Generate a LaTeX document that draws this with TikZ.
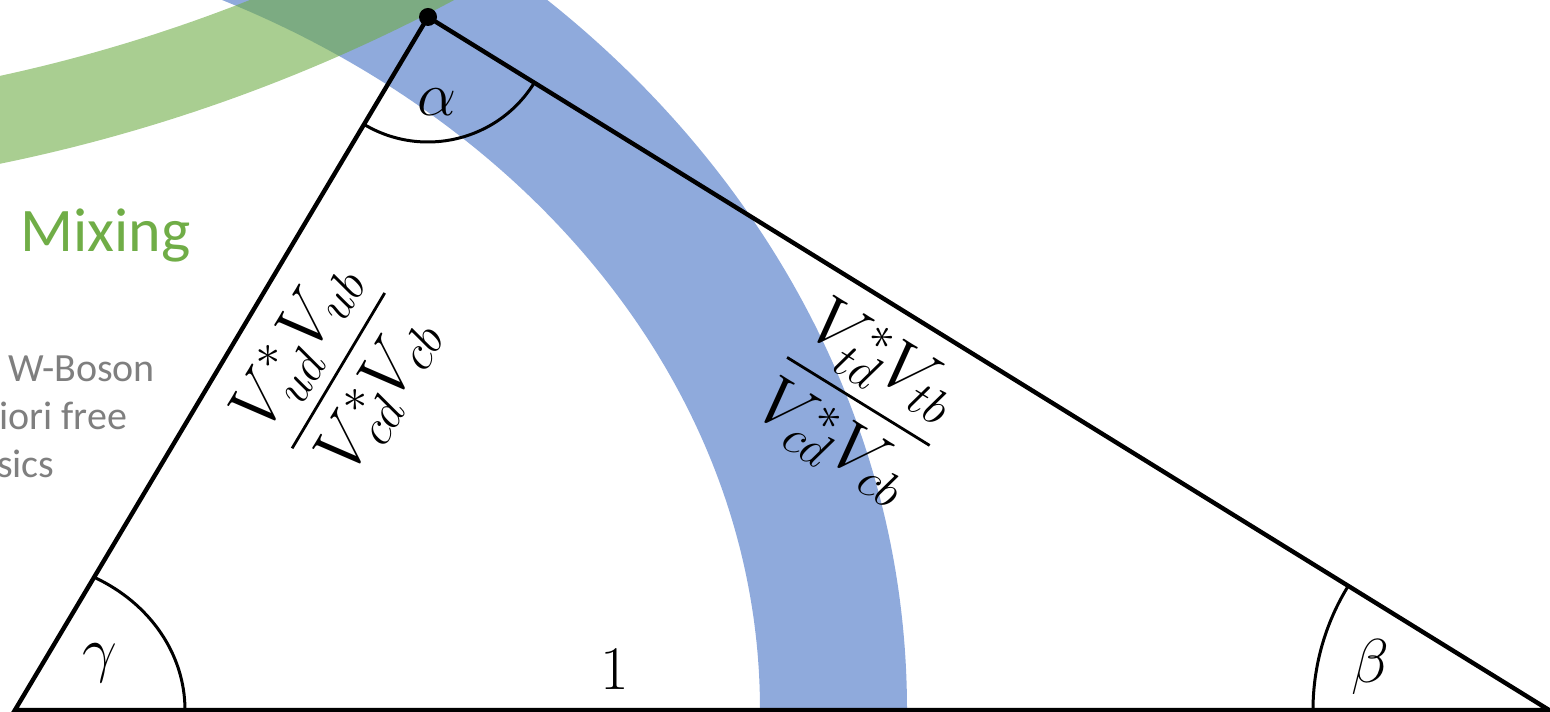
\RequirePackage{fix-cm}
\documentclass[tikz,border=0pt]{standalone}
\usepackage{amsmath}
\usepackage{fontspec}
\newfontfamily\carlito{Carlito}
\definecolor{ckmblue}{HTML}{8FAADC}
\definecolor{ckmgreen}{HTML}{70AD47}
\definecolor{ckmgray}{HTML}{7F7F7F}
\usetikzlibrary{
  calc,
  positioning
}
% fraction with a heavier bar
\newcommand{\ckmratio}[2]{\genfrac{}{}{2.8pt}{0}{#1}{#2}}

\begin{document}
\begin{tikzpicture}[
  x=1pt, y=1pt,
  side/.style={line width=4.4pt, line join=miter},
  anglearc/.style={line width=3pt},
  lbl/.style={font=\fontsize{62}{74}\selectfont, inner sep=0pt},
  ratio/.style={font=\fontsize{70}{84}\selectfont, inner sep=0pt},
  note/.style={font=\carlito\fontsize{40}{48}\selectfont, text=ckmgray,
    anchor=base west, inner sep=0pt},
]
\useasboundingbox (0,0) rectangle (1550,712);
\clip (0,0) rectangle (1550,712);

% bands (centres far outside the picture)
\coordinate (bc) at (-199,2);
\coordinate (gc) at (-340,2203);
\fill[ckmblue, even odd rule]
  (bc) ellipse[x radius=1106, y radius=962]
  (bc) ellipse[x radius=959, y radius=790];
\fill[ckmgreen, opacity=0.6, even odd rule]
  (gc) circle[radius=1689]
  (gc) circle[radius=1603];

% side texts
\node[font=\carlito\fontsize{62}{74}\selectfont, text=ckmgreen,
  anchor=base west, inner sep=0pt] (mixing) at (20,460) {Mixing};
\node[note] (wboson)  at (8,330)  {W-Boson};
\node[note] (apriori) at (-1,282) {iori free};
\node[note] (physics) at (-3,234) {sics};

% unitarity triangle
\coordinate (A) at (15,2);
\coordinate (B) at (1549,2);
\coordinate (C) at (428,695);
\draw[side] (A) -- (B) -- (C) -- cycle;
\fill (C) circle[radius=9];

% angles
\draw[anglearc] ($(A)+(170,0)$)
  arc[start angle=0, end angle=62.2, x radius=170, y radius=150];
\draw[anglearc] ($(B)+(-236,0)$)
  arc[start angle=180, end angle=148.3, radius=236];
\draw[anglearc] ($(C)+(239.2:125)$)
  arc[start angle=239.2, end angle=328.3, radius=125];

\node[lbl] (gamma) at (100,49)  {$\gamma$};
\node[lbl] (beta)  at (1370,45) {$\beta$};
\node[lbl] (alpha) at (437,610) {$\alpha$};
\node[lbl] (base)  at (615,42)  {$1$};

% side lengths
\node[ratio, rotate=59.2] (left) at (339,341)
  {$\ckmratio{V_{ud}^{*}V_{ub}}{V_{cd}^{*}V_{cb}}$};
\node[ratio, rotate=-31.7] (right) at (858,310)
  {$\ckmratio{V_{td}^{*}V_{tb}}{V_{cd}^{*}V_{cb}}$};

\end{tikzpicture}
\end{document}
